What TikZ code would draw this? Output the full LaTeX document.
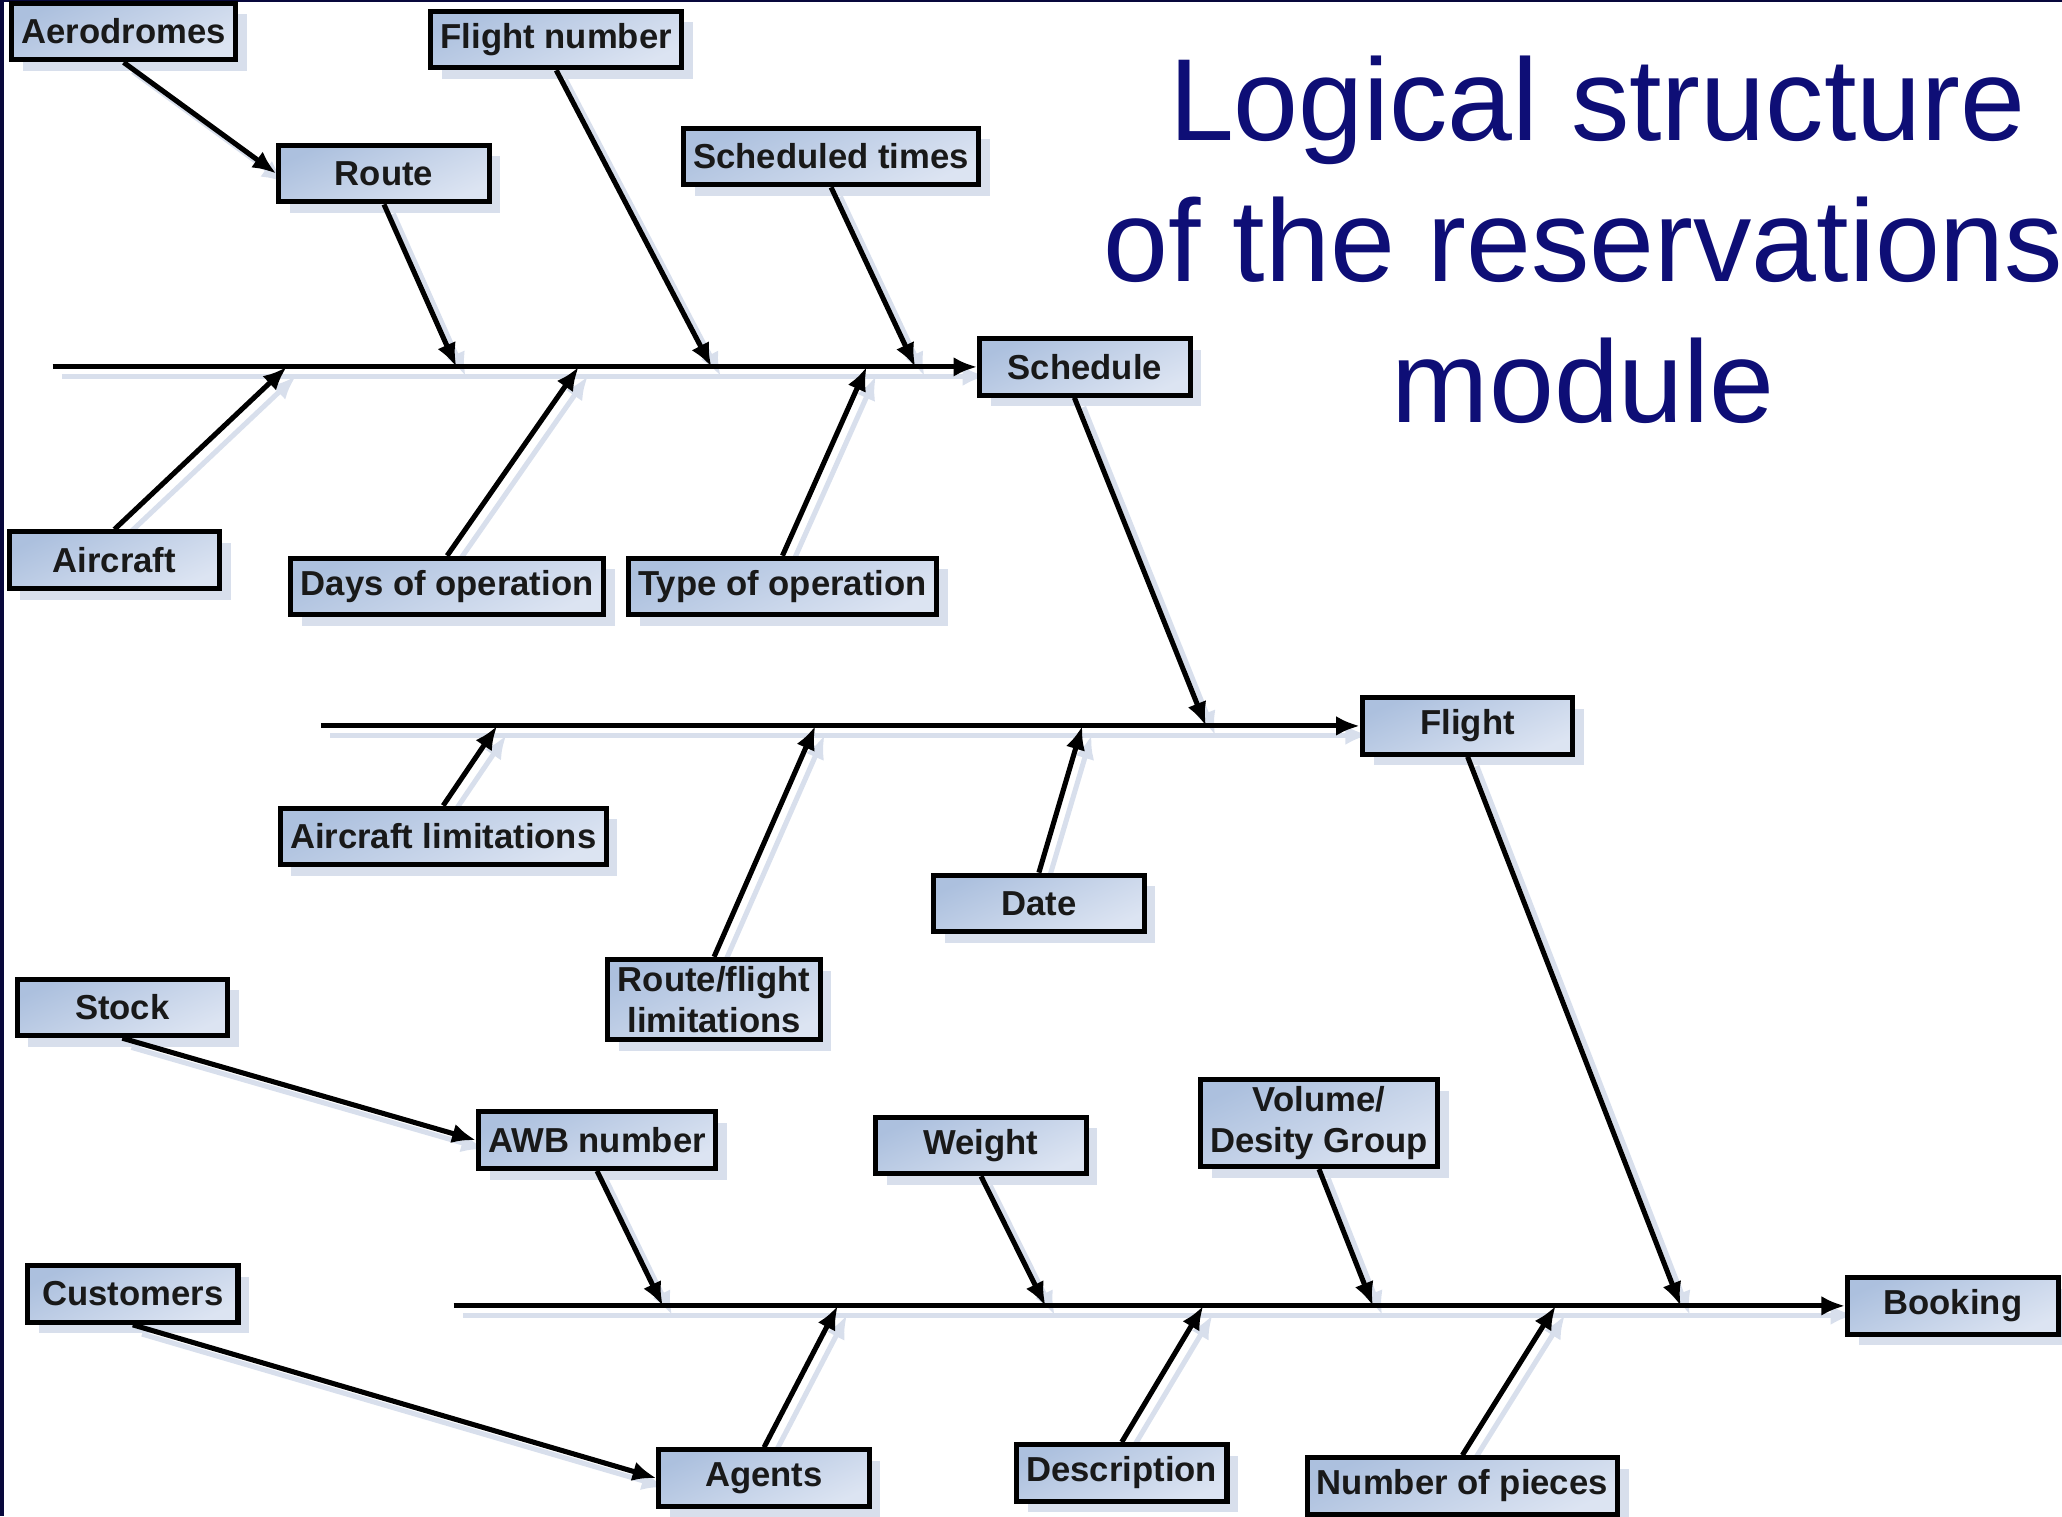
\documentclass[tikz,border=0pt]{standalone}
\usepackage{fontspec}
\setmainfont{Liberation Sans}
\usetikzlibrary{arrows.meta,positioning,shadows}
\pgfdeclarelayer{background}
\pgfsetlayers{background,main}
\definecolor{boxtop}{RGB}{172,192,222}
\definecolor{boxbot}{RGB}{220,228,242}
\definecolor{boxshade}{RGB}{216,223,236}
\definecolor{titleblue}{RGB}{14,14,118}
\definecolor{edgenavy}{RGB}{8,8,60}
\tikzstyle{block}=[draw=black, line width=2.2pt, rectangle, top color=boxtop, bottom color=boxbot, shading angle=25, minimum width=32mm, minimum height=8.6mm, inner xsep=1.5mm, inner ysep=1mm, align=center, text=black!90, font=\bfseries\fontsize{15}{18}\selectfont, drop shadow={shadow xshift=1.7mm, shadow yshift=-1.7mm, fill=boxshade, opacity=1}]
\tikzstyle{bone}=[->, line width=2.2pt]
\tikzstyle{boneshadow}=[bone, draw=boxshade, transform canvas={xshift=1.4mm, yshift=-1.4mm}]

\begin{document}
\begin{tikzpicture}[x=0.2mm, y=-0.2mm, auto, >={Latex[length=3.6mm, width=3mm]}]
    \useasboundingbox (0,0) rectangle (1568,1153);
    \fill[edgenavy] (0,0) rectangle (3,1153);
    \fill[edgenavy] (0,0) rectangle (1568,1.5);
    \node [font=\fontsize{50.5}{61}\selectfont, text=titleblue, align=center] (title) at (1204,182) {\hspace*{12pt}Logical structure\\of the reservations\\module};
    % schedule
    \node [block] (aero) at (94,24) {Aerodromes};
    \node [block] (route) at (292,132) {Route};
    \node [block] (fltno) at (423,30) {Flight number};
    \node [block] (schtimes) at (632,119) {Scheduled times};
    \node [block] (sched) at (825,279) {Schedule};
    \node [block] (aircraft) at (87,426) {Aircraft};
    \node [block] (days) at (340,446) {Days of operation};
    \node [block] (optype) at (595,446) {Type of operation};
    % flight
    \node [block] (flight) at (1116,552) {Flight};
    \node [block] (aclim) at (337,636) {Aircraft limitations};
    \node [block] (rtlim) at (543,760) {Route/flight\\limitations};
    \node [block] (date) at (790,687) {Date};
    % booking
    \node [block] (stock) at (93,766) {Stock};
    \node [block] (awb) at (454,867) {AWB number};
    \node [block] (weight) at (746,871) {Weight};
    \node [block] (volume) at (1003,854) {Volume/\\Desity Group};
    \node [block] (booking) at (1485,993) {Booking};
    \node [block] (cust) at (101,984) {Customers};
    \node [block] (agents) at (581,1124) {Agents};
    \node [block] (descr) at (853,1120) {Description};
    \node [block] (pieces) at (1112,1130) {Number of pieces};

    \coordinate (s1) at (40,279);
    \coordinate (s2) at (244,552);
    \coordinate (s3) at (345,993);
    \coordinate (s1a) at (218,279);
    \coordinate (s1b) at (347,279);
    \coordinate (s1c) at (440,279);
    \coordinate (s1d) at (541,279);
    \coordinate (s1e) at (659,279);
    \coordinate (s1f) at (696,279);
    \coordinate (s2a) at (378,552);
    \coordinate (s2b) at (620,552);
    \coordinate (s2c) at (823,552);
    \coordinate (s2d) at (917,552);
    \coordinate (s3a) at (504,993);
    \coordinate (s3b) at (637,993);
    \coordinate (s3c) at (795,993);
    \coordinate (s3d) at (915,993);
    \coordinate (s3e) at (1044,993);
    \coordinate (s3f) at (1183,993);
    \coordinate (s3g) at (1278,993);
    \coordinate (schedout) at ([xshift=-1.6mm]sched.south);

    \foreach \from/\to in {s1/sched, s2/flight, s3/booking,
        aero.south/route.west, route.south/s1b, fltno.south/s1d, schtimes.south/s1f,
        aircraft.north/s1a, days.north/s1c, optype.north/s1e, schedout/s2d,
        aclim.north/s2a, rtlim.north/s2b, date.north/s2c, flight.south/s3g,
        stock.south/awb.west, awb.south/s3a, weight.south/s3c, volume.south/s3e,
        cust.south/agents.west, agents.north/s3b, descr.north/s3d, pieces.north/s3f}
    {
        \begin{pgfonlayer}{background}
            \draw[boneshadow] (\from) -- (\to);
        \end{pgfonlayer}
        \draw[bone] (\from) -- (\to);
    }
\end{tikzpicture}
\end{document}
